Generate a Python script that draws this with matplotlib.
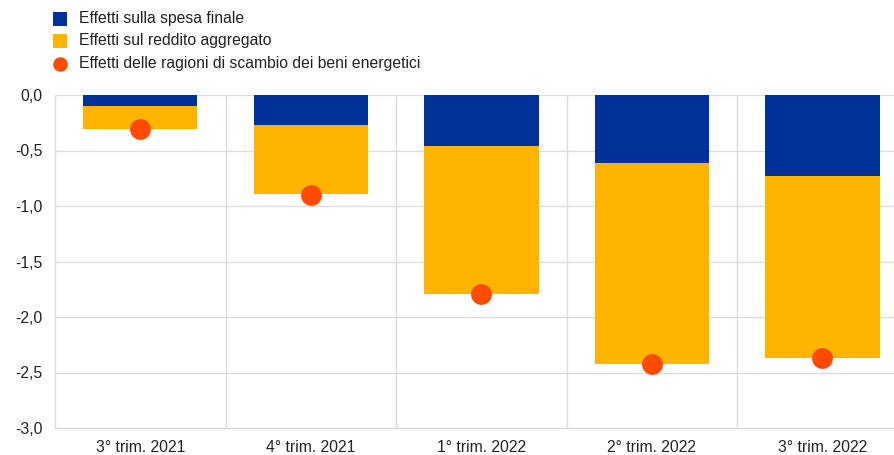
import numpy as np
import matplotlib.pyplot as plt
from matplotlib.lines import Line2D

plt.rcParams['font.family'] = ['Liberation Sans', 'DejaVu Sans']

categories = ["3° trim. 2021", "4° trim. 2021", "1° trim. 2022", "2° trim. 2022", "3° trim. 2022"]
spesa_finale = [-0.10, -0.27, -0.46, -0.61, -0.73]
reddito_aggregato = [-0.21, -0.62, -1.33, -1.81, -1.64]
ragioni_scambio = [-0.31, -0.90, -1.79, -2.42, -2.37]

blue = "#003299"
yellow = "#FFB400"
orange = "#FF4B00"
grid = "#dcdcdc"
text_color = "#222222"

fig = plt.figure(figsize=(8.95, 4.55), dpi=100)
ax = fig.add_axes([55 / 895, 27 / 455, 840 / 895, 333 / 455])

x = np.arange(len(categories))
ax.bar(x, spesa_finale, width=0.67, color=blue, zorder=2)
ax.bar(x, reddito_aggregato, width=0.67, bottom=spesa_finale, color=yellow, zorder=2)
ax.scatter(x, ragioni_scambio, s=225, color=orange, zorder=3, linewidths=0)

ax.set_ylim(-3.0, 0.0)
ax.set_xlim(-0.5, 4.0 + 72.5 / 170.5)
ticks = np.arange(-3.0, 0.01, 0.5)
ax.set_yticks(ticks)
ax.set_yticklabels([f"{v:.1f}".replace(".", ",") for v in ticks])
ax.set_xticks(x)
ax.set_xticklabels(categories)

for yv in np.arange(-2.5, 0.01, 0.5):
    ax.axhline(yv, color=grid, lw=1.0, zorder=1)
for xb in np.arange(0.5, 4.0, 1.0):
    ax.axvline(xb, color=grid, lw=1.0, zorder=1)

for side in ["top", "right"]:
    ax.spines[side].set_visible(False)
for side in ["left", "bottom"]:
    ax.spines[side].set_color(grid)
    ax.spines[side].set_linewidth(1.0)
ax.tick_params(axis="both", length=0, labelsize=11.3, colors=text_color)
ax.tick_params(axis="y", pad=9)
ax.tick_params(axis="x", pad=9)

# legend drawn by hand in figure pixels
labels = ["Effetti sulla spesa finale", "Effetti sul reddito aggregato",
          "Effetti delle ragioni di scambio dei beni energetici"]
markers = [("s", blue, 10), ("s", yellow, 10), ("o", orange, 10.5)]
rows_y = [19, 41, 63.5]
W, H = 895, 455
for (m, c, ms), lab, yy in zip(markers, labels, rows_y):
    fig.add_artist(Line2D([60.5 / W], [1 - yy / H], transform=fig.transFigure,
                          marker=m, color=c, markersize=ms, ls="", mew=0))
    fig.text(79 / W, 1 - yy / H, lab, fontsize=11.3, color=text_color,
             va="center", ha="left")

fig.savefig("out.png", dpi=100)
